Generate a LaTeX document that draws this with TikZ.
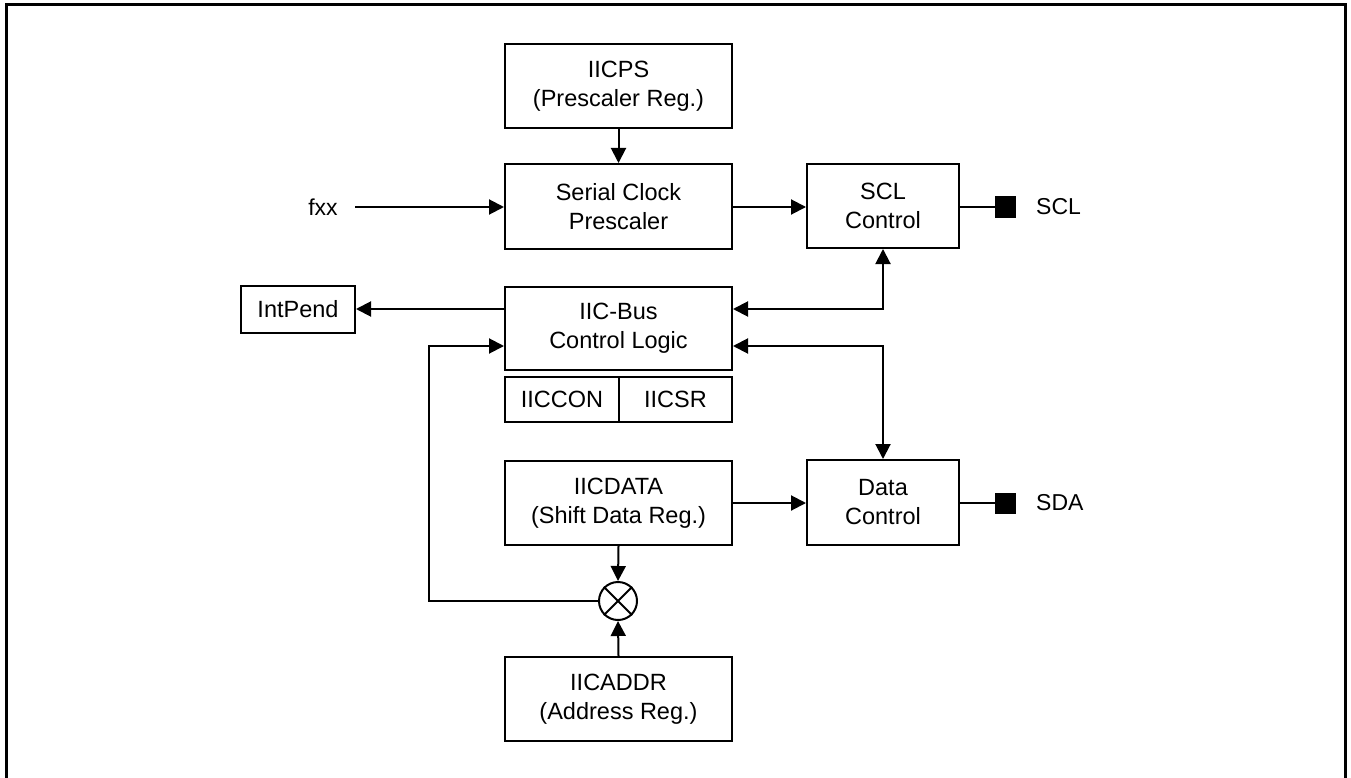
\documentclass[tikz,border=0pt]{standalone}
\usepackage{fontspec}
\setmainfont{Liberation Sans}
\usetikzlibrary{arrows.meta}
\begin{document}
\begin{tikzpicture}[x=1pt,y=-1pt,
  blk/.style={draw,line width=2pt,rectangle,inner sep=0pt,align=center,
    font=\fontsize{23.5}{29}\selectfont},
  lbl/.style={inner sep=0pt,font=\fontsize{23}{29}\selectfont},
  conn/.style={line width=2pt,-{Triangle[length=15pt,width=15pt]}},
  bicon/.style={line width=2pt,{Triangle[length=15pt,width=15pt]}-{Triangle[length=15pt,width=15pt]}},
  pin/.style={fill=black,draw=none,minimum width=21pt,minimum height=21pt,inner sep=0pt}]
\useasboundingbox (0,0) rectangle (1351,778);
\draw[line width=3pt] (6,780) -- (6,4.5) -- (1345,4.5) -- (1345,780);
% boxes
\node[blk,minimum width=227pt,minimum height=84pt] (ps) at (618.5,86) {IICPS\\(Prescaler Reg.)};
\node[blk,minimum width=227pt,minimum height=85pt] (scp) at (618.5,206.5) {Serial Clock\\Prescaler};
\node[blk,minimum width=227pt,minimum height=83pt] (cl) at (618.5,328.5) {IIC-Bus\\Control Logic};
\node[blk,minimum width=114pt,minimum height=45pt] (con) at (562,399.5) {IICCON};
\node[blk,minimum width=113pt,minimum height=45pt] (sr) at (675.5,399.5) {IICSR};
\node[blk,minimum width=227pt,minimum height=84pt] (dat) at (618.5,503) {IICDATA\\(Shift Data Reg.)};
\node[blk,minimum width=227pt,minimum height=84pt] (adr) at (618.5,699) {IICADDR\\(Address Reg.)};
\node[blk,minimum width=152pt,minimum height=84pt] (scl) at (883,206) {SCL\\Control};
\node[blk,minimum width=152pt,minimum height=85pt] (dc) at (883,502.5) {Data\\Control};
\node[blk,minimum width=114pt,minimum height=47pt] (ip) at (298,309.5) {IntPend};
\node[draw,line width=2pt,circle,minimum size=38pt,inner sep=0pt] (x) at (618,601) {};
\draw[line width=2pt] (x.north west) -- (x.south east) (x.north east) -- (x.south west);
% pins
\node[pin] (sclpin) at (1005.5,207) {};
\node[pin] (sdapin) at (1005.5,503) {};
\node[lbl,anchor=west] (scltxt) at (1036,207) {SCL};
\node[lbl,anchor=west] (sdatxt) at (1036,503) {SDA};
\node[lbl] (fxx) at (323,207) {fxx};
\coordinate (fxxs) at (355,207);
% connectors
\draw[conn] (ps.south) -- (scp.north);
\draw[conn] (fxxs) -- (fxxs -| scp.west);
\draw[conn] (scp.east |- 0,207) -- (scl.west |- 0,207);
\draw[line width=2pt] (scl.east |- 0,207) -- (sclpin.west);
\draw[line width=2pt] (dc.east |- 0,503) -- (sdapin.west);
\draw[conn] (cl.west |- 0,309) -- (ip.east |- 0,309);
\draw[bicon] (cl.east |- 0,309) -- (883,309) -- (scl.south);
\draw[bicon] (cl.east |- 0,346) -- (883,346) -- (dc.north);
\draw[conn] (dat.east |- 0,503) -- (dc.west |- 0,503);
\draw[conn] (dat.south) -- (x.north);
\draw[conn] (adr.north) -- (x.south);
\draw[conn] (x.west) -- (429,601) -- (429,346) -- (cl.west |- 0,346);
\end{tikzpicture}
\end{document}
